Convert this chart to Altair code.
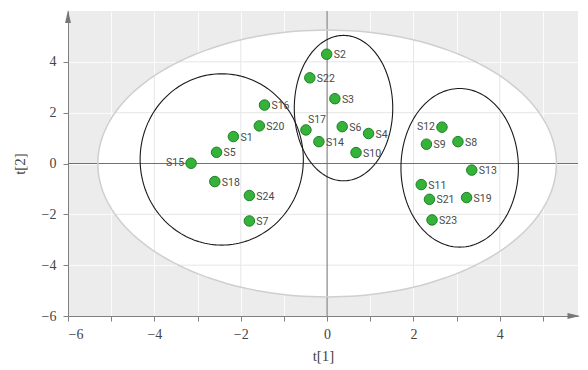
import numpy as np
import pandas as pd
import altair as alt

# --- data ---
names = ["S1", "S2", "S3", "S4", "S5", "S6", "S7", "S8", "S9", "S10", "S11", "S12",
         "S13", "S14", "S15", "S16", "S17", "S18", "S19", "S20", "S21", "S22", "S23", "S24"]
t1 = [-2.17, -0.01, 0.18, 0.96, -2.56, 0.35, -1.80, 3.03, 2.30, 0.67, 2.18, 2.66,
      3.35, -0.19, -3.15, -1.45, -0.49, -2.60, 3.23, -1.57, 2.37, -0.40, 2.43, -1.80]
t2 = [1.06, 4.30, 2.55, 1.18, 0.44, 1.45, -2.26, 0.86, 0.76, 0.43, -0.83, 1.43,
      -0.26, 0.86, 0.01, 2.30, 1.32, -0.71, -1.34, 1.48, -1.41, 3.37, -2.22, -1.26]
left_labelled = ["S15", "S12"]
above_labelled = ["S17"]

# ellipses: name, centre x, centre y, semi-axis x, semi-axis y
ell_names = ["T2", "G1", "G2", "G3"]
ell_cx = [0.0, -2.44, 0.38, 3.07]
ell_cy = [0.0, 0.16, 2.18, -0.17]
ell_ax = [5.31, 1.89, 1.14, 1.36]
ell_ay = [5.25, 3.37, 2.86, 3.12]

grid_vals = [-4, -2, 2, 4]
x_ticks = [-6, -5, -4, -3, -2, -1, 0, 1, 2, 3, 4, 5]
y_ticks = [-6, -5, -4, -3, -2, -1, 0, 1, 2, 3, 4, 5]
XDOM = [-6, 5.81]
YDOM = [-6, 6]

W, H = 510, 305

pts = pd.DataFrame({"name": names, "t1": t1, "t2": t2})

# ellipse outlines
rows = []
ang = np.linspace(0, 2 * np.pi, 181)
for n, cx, cy, ax_, ay_ in zip(ell_names, ell_cx, ell_cy, ell_ax, ell_ay):
    for i, a in enumerate(ang):
        rows.append({"ell": n, "i": i, "x": cx + ax_ * np.cos(a), "y": cy + ay_ * np.sin(a)})
outline = pd.DataFrame(rows)

# big ellipse fill (upper/lower halves)
half = np.linspace(0, np.pi, 181)
fill = pd.DataFrame({
    "x": ell_cx[0] + ell_ax[0] * np.cos(half),
    "yu": ell_cy[0] + ell_ay[0] * np.sin(half),
    "yl": ell_cy[0] - ell_ay[0] * np.sin(half),
})

# grid segments inside the big ellipse
a0, b0 = ell_ax[0], ell_ay[0]
vgrid = pd.DataFrame({"x": grid_vals,
                      "y1": [-b0 * np.sqrt(1 - (c / a0) ** 2) for c in grid_vals],
                      "y2": [b0 * np.sqrt(1 - (c / a0) ** 2) for c in grid_vals]})
hgrid = pd.DataFrame({"y": grid_vals,
                      "x1": [-a0 * np.sqrt(1 - (c / b0) ** 2) for c in grid_vals],
                      "x2": [a0 * np.sqrt(1 - (c / b0) ** 2) for c in grid_vals]})

xs = alt.Scale(domain=XDOM, nice=False, zero=False)
ys = alt.Scale(domain=YDOM, nice=False, zero=False)

x_label_expr = ("datum.value % 2 !== 0 ? '' : "
                "(datum.value < 0 ? datum.label + '\u00a0\u00a0' : datum.label)")
y_label_expr = "datum.value % 2 === 0 ? datum.label : ''"
x_axis = alt.Axis(values=x_ticks, labelExpr=x_label_expr, title="t[1]", grid=True,
                  gridColor="#fbfbfb", gridWidth=1, tickSize=5, labelPadding=6,
                  titlePadding=7)
y_axis = alt.Axis(values=y_ticks, labelExpr=y_label_expr, title="t[2]", grid=True,
                  gridColor="#fbfbfb", gridWidth=1, tickSize=5, labelPadding=7,
                  titlePadding=14)

# white inner ellipse fill
fill_layer = alt.Chart(fill).mark_area(color="white", opacity=1).encode(
    x=alt.X("x:Q", scale=xs, axis=x_axis),
    y=alt.Y("yu:Q", scale=ys, axis=y_axis),
    y2="yl:Q",
)

vg = alt.Chart(vgrid).mark_rule(color="#e6e6e6", strokeWidth=1).encode(
    x=alt.X("x:Q", scale=xs), y=alt.Y("y1:Q", scale=ys), y2="y2:Q")
hg = alt.Chart(hgrid).mark_rule(color="#e6e6e6", strokeWidth=1).encode(
    y=alt.Y("y:Q", scale=ys), x=alt.X("x1:Q", scale=xs), x2="x2:Q")

zero_df = pd.DataFrame({"v": [0]})
zx = alt.Chart(zero_df).mark_rule(color="#707070", strokeWidth=1).encode(
    x=alt.X("v:Q", scale=xs), y=alt.value(0), y2=alt.value(H))
zy = alt.Chart(zero_df).mark_rule(color="#707070", strokeWidth=1).encode(
    y=alt.Y("v:Q", scale=ys), x=alt.value(0), x2=alt.value(W))

big_outline = alt.Chart(outline[outline.ell == "T2"]).mark_line(
    color="#cfcfcf", strokeWidth=1.5).encode(
    x=alt.X("x:Q", scale=xs), y=alt.Y("y:Q", scale=ys), order="i:Q")
grp_outline = alt.Chart(outline[outline.ell != "T2"]).mark_line(
    color="#1a1a1a", strokeWidth=1.1).encode(
    x=alt.X("x:Q", scale=xs), y=alt.Y("y:Q", scale=ys), order="i:Q", detail="ell:N")

points = alt.Chart(pts).mark_point(filled=True, size=110, fill="#35b23a",
                                   stroke="#1f7f25", strokeWidth=1, opacity=1).encode(
    x=alt.X("t1:Q", scale=xs), y=alt.Y("t2:Q", scale=ys))

txt_props = dict(font="Roboto", fontSize=10.5, color="#4a4a4a", baseline="middle")
right_df = pts[~pts.name.isin(left_labelled + above_labelled)]
left_df = pts[pts.name.isin(left_labelled)]
above_df = pts[pts.name.isin(above_labelled)]
lab_r = alt.Chart(right_df).mark_text(align="left", dx=7, dy=1, **txt_props).encode(
    x=alt.X("t1:Q", scale=xs), y=alt.Y("t2:Q", scale=ys), text="name:N")
lab_l = alt.Chart(left_df).mark_text(align="right", dx=-7, dy=0, **txt_props).encode(
    x=alt.X("t1:Q", scale=xs), y=alt.Y("t2:Q", scale=ys), text="name:N")
lab_a = alt.Chart(above_df).mark_text(align="left", dx=2, dy=-10, **txt_props).encode(
    x=alt.X("t1:Q", scale=xs), y=alt.Y("t2:Q", scale=ys), text="name:N")

arrow_df = pd.DataFrame({"k": ["up"]})
arrow_up = alt.Chart(arrow_df).mark_point(
    shape="M0,-1L0.45,1L-0.45,1Z", filled=True, size=169, color="#777777", opacity=1).encode(
    x=alt.value(0), y=alt.value(5.5))
arrow_right = alt.Chart(arrow_df).mark_point(
    shape="M1,0L-1,0.45L-1,-0.45Z", filled=True, size=169, color="#777777", opacity=1).encode(
    x=alt.value(W - 4), y=alt.value(H))

chart = alt.layer(
    fill_layer, vg, hg, zx, zy, big_outline, grp_outline, points, lab_r, lab_l, lab_a,
    arrow_up, arrow_right,
).properties(
    width=W, height=H,
    autosize=alt.AutoSizeParams(type="none"),
    padding={"left": 60, "top": 3, "right": 2, "bottom": 50},
).configure_view(
    fill="#ececec", stroke=None,
).configure_axis(
    domainColor="#808080", domainWidth=1, tickColor="#808080", tickWidth=1,
    labelFont="Liberation Serif", labelFontSize=14, labelColor="#444444",
    titleFont="Liberation Serif", titleFontSize=15, titleFontWeight="normal",
    titleColor="#444444",
)

chart.save("out.html", embed_options={"renderer": "svg", "actions": False})
